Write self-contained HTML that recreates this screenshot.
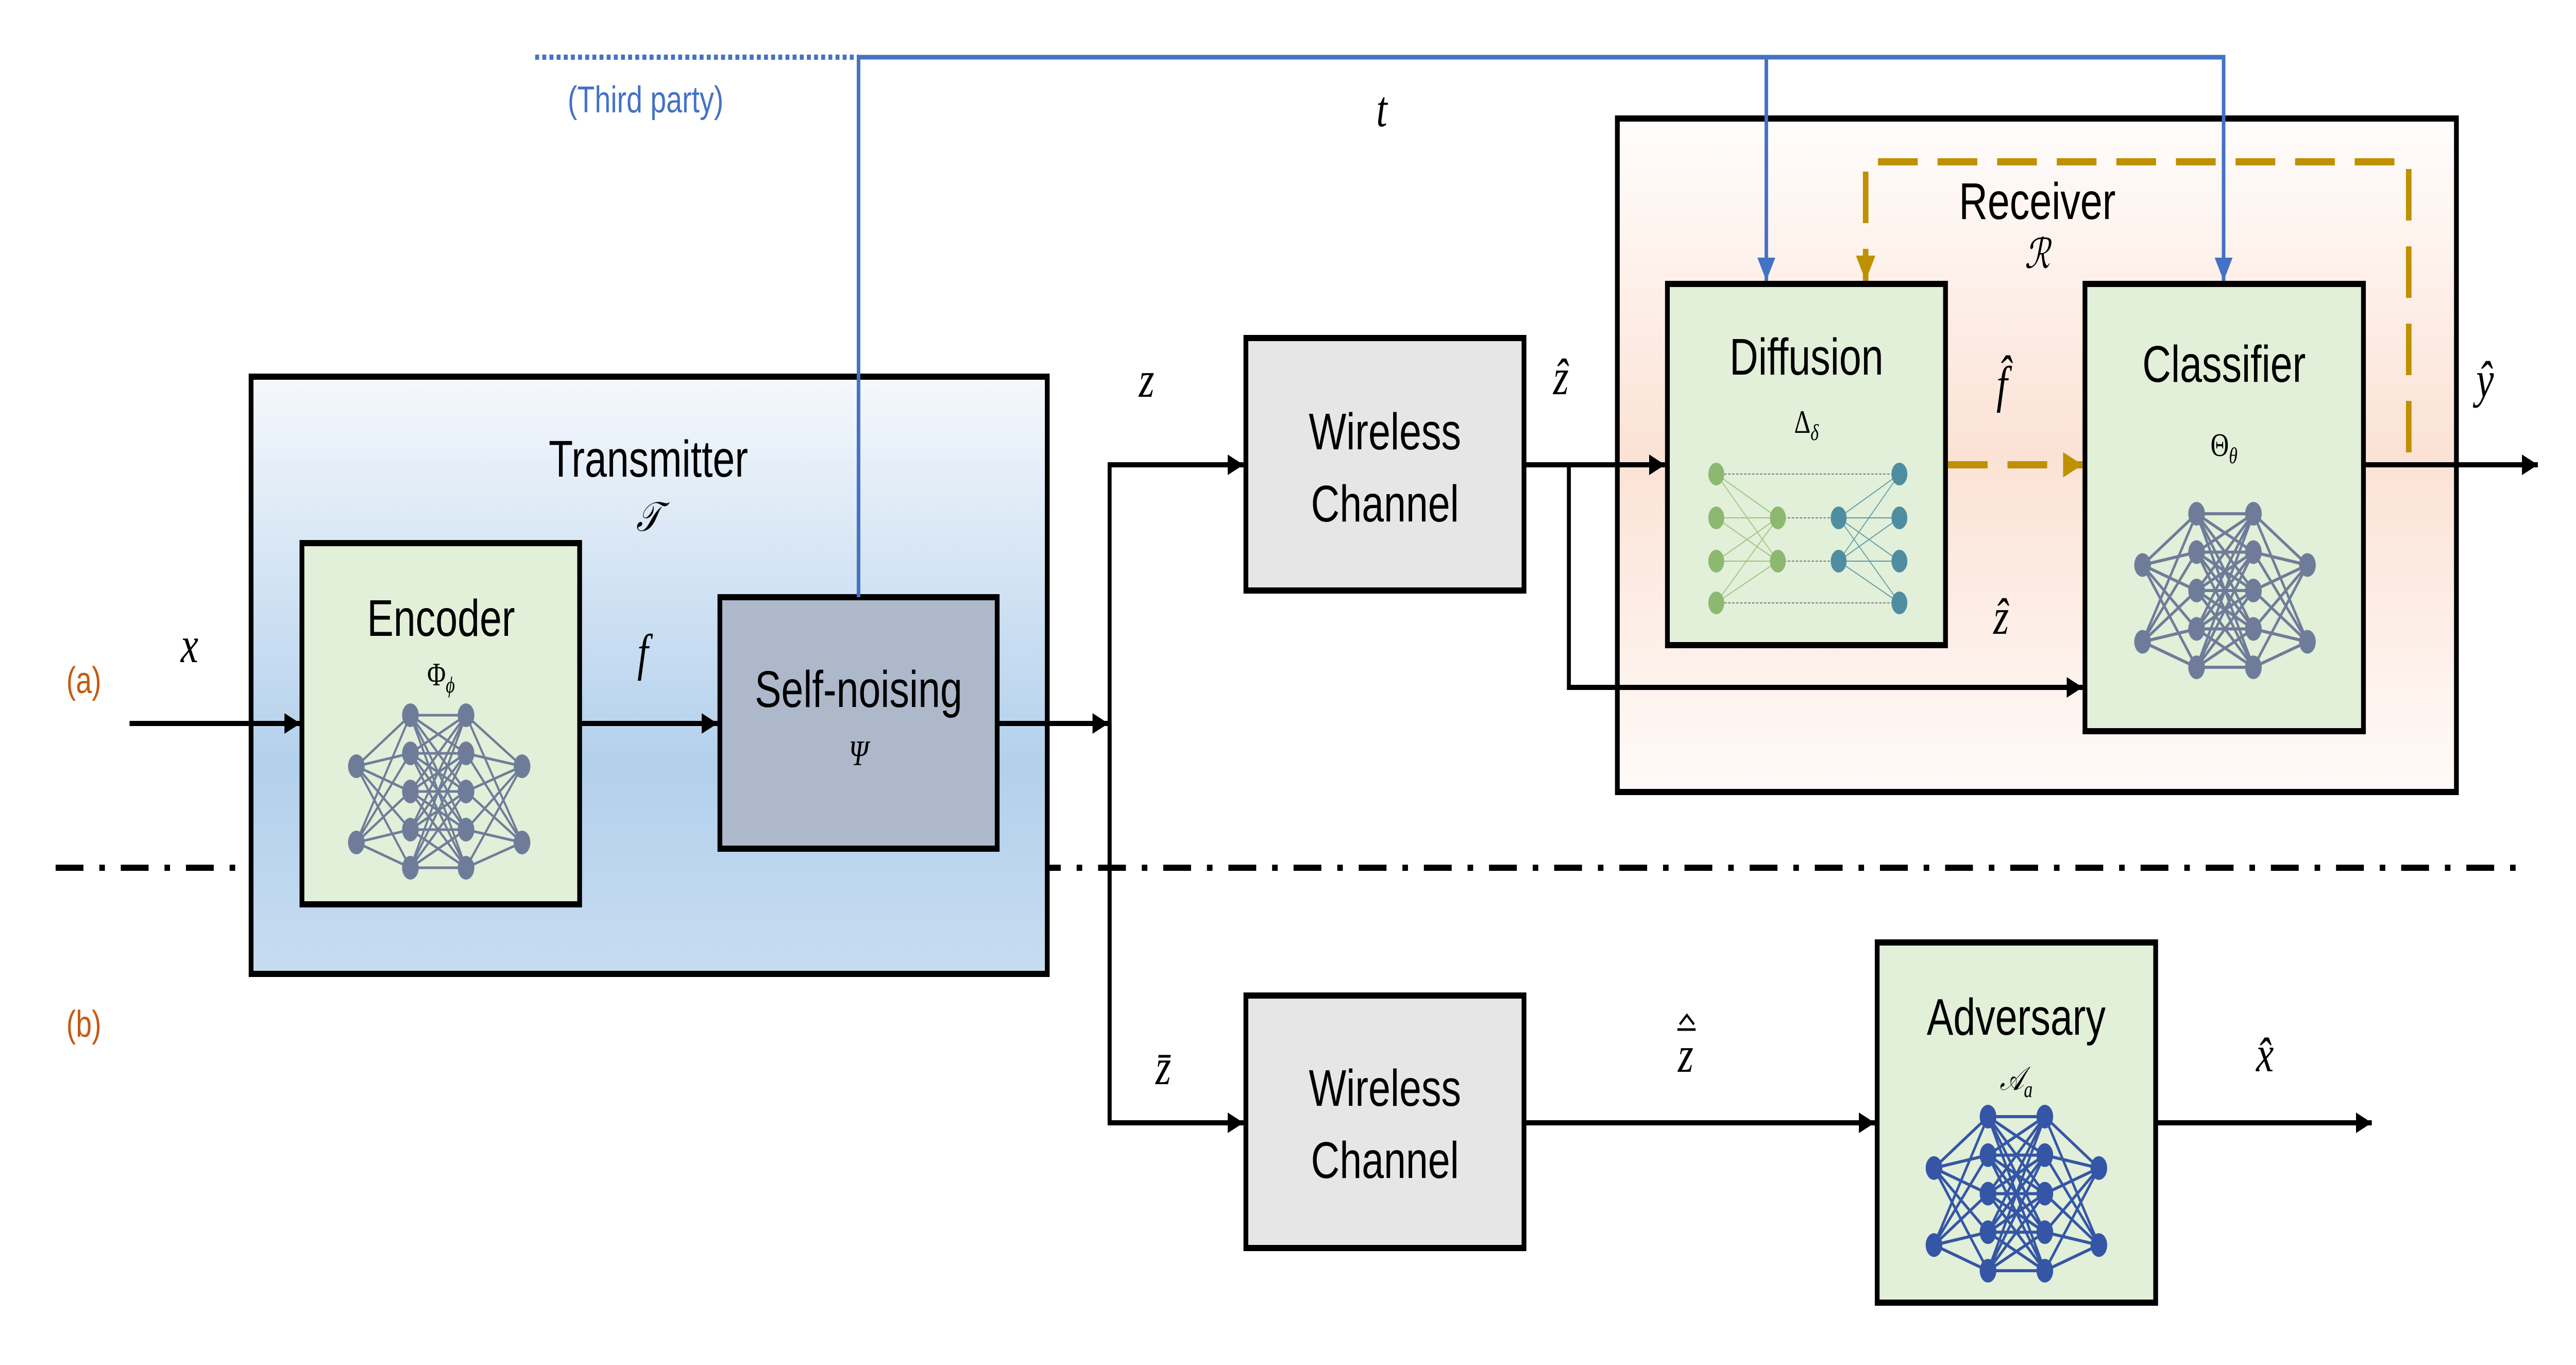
<!DOCTYPE html>
<html><head><meta charset="utf-8"><style>
html,body{margin:0;padding:0;background:#fff;overflow:hidden;width:100%;height:100%}
svg{display:block;width:100vw;height:100vh}
.lbl{font-family:"Liberation Sans",sans-serif;fill:#000}
.m{font-family:"Liberation Serif",serif;font-style:italic;fill:#000}
</style></head><body>
<svg id="s" xmlns="http://www.w3.org/2000/svg" viewBox="0 0 6484 2649" preserveAspectRatio="none">
<defs>
<linearGradient id="tx" x1="0" y1="0" x2="0" y2="1">
<stop offset="0" stop-color="#f5f8fc"/><stop offset="0.65" stop-color="#b3d0ec"/><stop offset="1" stop-color="#c7dcf1"/></linearGradient>
<linearGradient id="rx" x1="0" y1="0" x2="0" y2="1">
<stop offset="0" stop-color="#fffdfc"/><stop offset="0.5" stop-color="#fbe2d5"/><stop offset="1" stop-color="#fffaf8"/></linearGradient>
<marker id="ab" viewBox="0 0 10 10" refX="10" refY="5" markerWidth="4" markerHeight="4" orient="auto" markerUnits="strokeWidth"><path d="M0,0L10,5L0,10z" fill="#000"/></marker>
<marker id="au" viewBox="0 0 10 10" refX="10" refY="5" markerWidth="5" markerHeight="5" orient="auto" markerUnits="strokeWidth"><path d="M0,0L10,5L0,10z" fill="#4472c4"/></marker>
<marker id="ag" viewBox="0 0 10 10" refX="10" refY="5" markerWidth="3.5" markerHeight="3.5" orient="auto" markerUnits="strokeWidth"><path d="M0,0L10,5L0,10z" fill="#bf9000"/></marker>
</defs>

<line x1="140" y1="1684" x2="6352" y2="1684" stroke="#000" stroke-width="12" stroke-dasharray="70,40,14,40"/>

<rect x="632" y="731" width="2004" height="1159" fill="url(#tx)" stroke="#000" stroke-width="12"/>
<text class="lbl" x="1632" y="925" font-size="100" text-anchor="middle">Transmitter</text>
<text class="m" x="1632" y="1030" font-size="80" text-anchor="middle">𝒯</text>

<rect x="4071" y="230" width="2112" height="1307" fill="url(#rx)" stroke="#000" stroke-width="12"/>
<text class="lbl" x="5128" y="425" font-size="100" text-anchor="middle">Receiver</text>
<text class="m" x="5128" y="520" font-size="80" text-anchor="middle">ℛ</text>

<rect x="760" y="1054" width="699" height="701" fill="#e2efd9" stroke="#000" stroke-width="12"/>
<text class="lbl" x="1110" y="1234" font-size="100" text-anchor="middle">Encoder</text>
<text class="m" x="1110" y="1330" font-size="64" text-anchor="middle"><tspan font-style="normal">Φ</tspan><tspan font-size="44" dy="14">ϕ</tspan></text>

<rect x="1812" y="1159" width="698" height="488" fill="#adb9ca" stroke="#000" stroke-width="12"/>
<text class="lbl" x="2161" y="1372" font-size="100" text-anchor="middle">Self-noising</text>
<text class="m" x="2161" y="1485" font-size="70" text-anchor="middle" font-style="normal">Ψ</text>

<rect x="3136" y="656" width="700" height="490" fill="#e6e6e6" stroke="#000" stroke-width="12"/>
<text class="lbl" x="3486" y="872" font-size="100" text-anchor="middle">Wireless</text>
<text class="lbl" x="3486" y="1012" font-size="100" text-anchor="middle">Channel</text>
<rect x="3136" y="1932" width="700" height="490" fill="#e6e6e6" stroke="#000" stroke-width="12"/>
<text class="lbl" x="3486" y="2146" font-size="100" text-anchor="middle">Wireless</text>
<text class="lbl" x="3486" y="2286" font-size="100" text-anchor="middle">Channel</text>

<rect x="4197" y="551" width="700" height="701" fill="#e2efd9" stroke="#000" stroke-width="12"/>
<text class="lbl" x="4547" y="727" font-size="100" text-anchor="middle">Diffusion</text>
<text class="m" x="4547" y="840" font-size="64" text-anchor="middle"><tspan font-style="normal">Δ</tspan><tspan font-size="44" dy="14">δ</tspan></text>

<rect x="5248" y="551" width="701" height="868" fill="#e2efd9" stroke="#000" stroke-width="12"/>
<text class="lbl" x="5598" y="741" font-size="100" text-anchor="middle">Classifier</text>
<text class="m" x="5598" y="885" font-size="64" text-anchor="middle"><tspan font-style="normal">Θ</tspan><tspan font-size="44" dy="14">θ</tspan></text>

<rect x="4725" y="1829" width="701" height="699" fill="#e2efd9" stroke="#000" stroke-width="12"/>
<text class="lbl" x="5075" y="2008" font-size="100" text-anchor="middle">Adversary</text>
<text class="m" x="5075" y="2115" font-size="64" text-anchor="middle">𝒜<tspan font-size="44" dy="14">a</tspan></text>

<g id="nets"></g>

<g stroke="#000" stroke-width="10" fill="none">
<line x1="326" y1="1404" x2="756" y2="1404" marker-end="url(#ab)"/>
<line x1="1459" y1="1404" x2="1806" y2="1404" marker-end="url(#ab)"/>
<line x1="2510" y1="1404" x2="2790" y2="1404" marker-end="url(#ab)"/>
<polyline points="2793,2175 2793,902 3130,902" marker-end="url(#ab)"/>
<polyline points="2793,1404 2793,2179 3130,2179" marker-end="url(#ab)"/>
<line x1="3836" y1="902" x2="4191" y2="902" marker-end="url(#ab)"/>
<polyline points="3949,902 3949,1334 5242,1334" marker-end="url(#ab)"/>
<line x1="5949" y1="902" x2="6388" y2="902" marker-end="url(#ab)"/>
<line x1="3836" y1="2179" x2="4719" y2="2179" marker-end="url(#ab)"/>
<line x1="5426" y1="2179" x2="5970" y2="2179" marker-end="url(#ab)"/>
</g>

<line x1="1347" y1="111" x2="2161" y2="111" stroke="#4472c4" stroke-width="10" stroke-dasharray="10,8"/>
<g stroke="#4472c4" stroke-width="9" fill="none">
<polyline points="2161,1159 2161,111 5597,111 5597,545" marker-end="url(#au)"/>
<line x1="4446" y1="111" x2="4446" y2="545" marker-end="url(#au)"/>
</g>
<text class="lbl" x="1625" y="218" font-size="72" text-anchor="middle" style="fill:#4472c4">(Third party)</text>

<g stroke="#bf9000" stroke-width="14" fill="none" stroke-dasharray="100,50">
<polyline points="6063,878 6063,314 4696,314 4696,545" marker-end="url(#ag)"/>
<line x1="4903" y1="902" x2="5242" y2="902" marker-end="url(#ag)"/>
</g>

<text class="lbl" x="211" y="1345" font-size="72" text-anchor="middle" style="fill:#c55a11">(a)</text>
<text class="lbl" x="211" y="2012" font-size="72" text-anchor="middle" style="fill:#c55a11">(b)</text>
<g font-size="100" text-anchor="middle">
<text class="m" x="477" y="1285">x</text>
<text class="m" x="1618" y="1300">f</text>
<text class="m" x="2886" y="770">z</text>
<text class="m" x="2928" y="2104">z̄</text>
<text class="m" x="3478" y="245">t</text>
<text class="m" x="3929" y="765">ẑ</text>
<text class="m" x="5039" y="780">f̂</text>
<text class="m" x="5037" y="1230">ẑ</text>
<text class="m" x="6255" y="770">ŷ</text>
<text class="m" x="4243" y="2080">z</text>
<text class="m" x="5701" y="2079">x̂</text>
</g>
<line x1="4222" y1="1998" x2="4268" y2="1998" stroke="#000" stroke-width="5"/>
<polyline points="4228,1988 4246,1970 4264,1988" stroke="#000" stroke-width="5" fill="none"/>
</svg>
<script>
(function(){
var g=document.getElementById('nets'),h='';
function net(xs,ys5,ys2,col,w){
 var layers=[ys2,ys5,ys5,ys2];
 for(var l=0;l<3;l++)for(var a=0;a<layers[l].length;a++)for(var b=0;b<layers[l+1].length;b++)
  h+='<line x1="'+xs[l]+'" y1="'+layers[l][a]+'" x2="'+xs[l+1]+'" y2="'+layers[l+1][b]+'" stroke="'+col+'" stroke-width="'+w+'"/>';
 for(var l=0;l<4;l++)for(var a=0;a<layers[l].length;a++)
  h+='<ellipse cx="'+xs[l]+'" cy="'+layers[l][a]+'" rx="21" ry="23" fill="'+col+'"/>';
}
function r5(t,b){var o=[];for(var i=0;i<5;i++)o.push(t+(b-t)*i/4);return o;}
var e5=r5(1388,1684);net([897,1033,1173,1314],e5,[e5[1]+25,e5[3]+25],'#6f7c99',5);
var c5=r5(997,1295);net([5393,5529,5672,5808],c5,[c5[1]+25,c5[3]+25],'#6f7c99',6);
var a5=r5(2167,2466);net([4868,5004,5147,5283],a5,[a5[1]+25,a5[3]+25],'#3556a6',6);
var Y4=[920,1005,1089,1170],Y2=[1005,1089];
[[920,4781,920],[1170,4781,1170],[1005,4628,1005],[1089,4628,1089]].forEach(function(q){
 h+='<line x1="4320" y1="'+q[0]+'" x2="'+q[1]+'" y2="'+q[2]+'" stroke="#777" stroke-width="2" stroke-dasharray="6,4"/>';});
Y4.forEach(function(a){Y2.forEach(function(b){
 h+='<line x1="4320" y1="'+a+'" x2="4475" y2="'+b+'" stroke="#9cc47a" stroke-width="2"/>';
 h+='<line x1="4628" y1="'+b+'" x2="4781" y2="'+a+'" stroke="#5b9aa8" stroke-width="2"/>';});});
Y4.forEach(function(y){h+='<ellipse cx="4320" cy="'+y+'" rx="20" ry="22" fill="#8db870"/><ellipse cx="4781" cy="'+y+'" rx="20" ry="22" fill="#4f8ea0"/>';});
Y2.forEach(function(y){h+='<ellipse cx="4475" cy="'+y+'" rx="20" ry="22" fill="#8db870"/><ellipse cx="4628" cy="'+y+'" rx="20" ry="22" fill="#4f8ea0"/>';});
g.innerHTML=h;
})();
</script>
</body></html>
